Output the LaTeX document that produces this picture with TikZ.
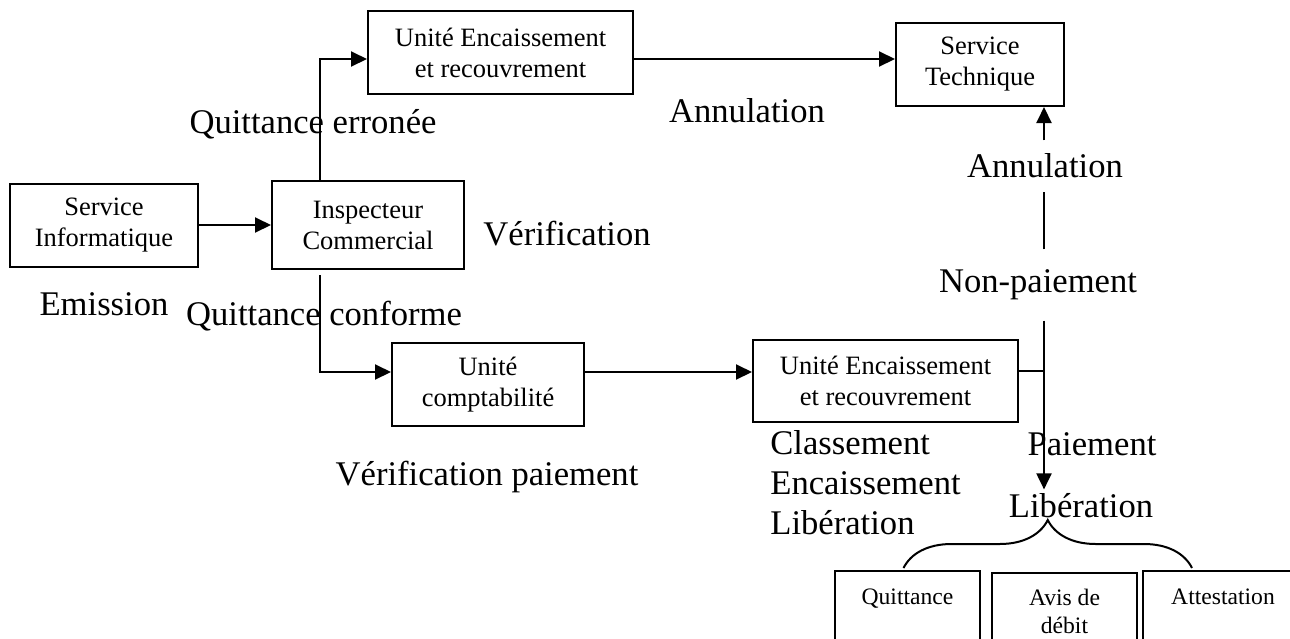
\documentclass[tikz,border=0pt]{standalone}
\usepackage{fontspec}
\setmainfont{Liberation Serif}
\usetikzlibrary{arrows.meta,decorations.pathreplacing}

\newcommand{\unitFont}{\fontsize{13.25}{15.5}\selectfont}
\newcommand{\stepFont}{\fontsize{17.3}{20}\selectfont}
\newcommand{\docFont}{\fontsize{11.8}{14}\selectfont}

\begin{document}
\begin{tikzpicture}[x=0.5pt,y=-0.5pt]
\tikzstyle{unitBox}=[draw,line width=1pt,align=center,inner sep=0pt,font=\unitFont]
\tikzstyle{docBox}=[draw,line width=1pt,anchor=north,align=center,font=\docFont,inner xsep=0pt,inner ysep=8pt,text depth=60pt]
\tikzstyle{stepLabel}=[font=\stepFont,inner sep=2pt]
\tikzstyle{flowEdge}=[line width=1pt,-{Triangle[length=8pt,width=7.5pt]}]
\tikzstyle{plainEdge}=[line width=1pt]
\useasboundingbox (0,0) rectangle (1290,638);
% boxes
\node[unitBox,minimum width=94pt,minimum height=41.5pt] (svc-info) at (104,225) {Service\\Informatique};
\node[unitBox,minimum width=96pt,minimum height=44pt] (inspecteur) at (368,225) {Inspecteur\\Commercial};
\node[unitBox,minimum width=132.5pt,minimum height=41.5pt] (enc-haut) at (500.5,52.5) {Unité Encaissement\\et recouvrement};
\node[unitBox,minimum width=84pt,minimum height=41.5pt] (serv-tech) at (980,64.5) {Service\\Technique};
\node[unitBox,minimum width=96pt,minimum height=41.5pt] (compta) at (488,384.5) {Unité\\comptabilité};
\node[unitBox,minimum width=132.5pt,minimum height=41pt] (enc-bas) at (885.5,380.5) {Unité Encaissement\\et recouvrement};
\node[docBox,minimum width=72.5pt,inner ysep=9pt] (doc-quittance) at (907.5,570) {Quittance};
\node[docBox,minimum width=72.5pt] (doc-avis) at (1064.5,572) {Avis de\\débit};
\node[docBox,minimum width=80pt,inner ysep=9pt] (doc-attest) at (1223,570) {Attestation};
% labels
\node[stepLabel] (lbl-erronee) at (313,124) {Quittance erronée};
\node[stepLabel] (lbl-verif) at (567,234) {Vérification};
\node[stepLabel] (lbl-emission) at (104,304) {Emission};
\node[stepLabel] (lbl-conforme) at (324,316) {Quittance conforme};
\node[stepLabel] (lbl-annul-haut) at (747,111) {Annulation};
\node[stepLabel,inner ysep=6.5pt] (lbl-annul) at (1045,166) {Annulation};
\node[stepLabel,inner ysep=10pt] (lbl-nonpaie) at (1038,285) {Non-paiement};
\node[stepLabel] (lbl-paie) at (1092,444) {Paiement};
\node[stepLabel] (lbl-liberation) at (1081,506) {Libération};
\node[stepLabel] (lbl-verif-paie) at (487,477) {Vérification paiement};
\node[stepLabel,align=left,anchor=west] (lbl-classement) at (766,483) {Classement\\Encaissement\\Libération};
\coordinate (jonction) at (1044,371);
% connectors
\draw[flowEdge] (svc-info) -- (inspecteur);
\draw[flowEdge] ([xshift=-24pt]inspecteur.north) |- ([yshift=-3.25pt]enc-haut.west);
\draw[flowEdge] ([xshift=-24pt,yshift=-2.5pt]inspecteur.south) |- ([yshift=6.25pt]compta.west);
\draw[flowEdge] ([yshift=-3.25pt]enc-haut.east) -- ([yshift=-3.25pt]enc-haut.east -| serv-tech.west);
\draw[flowEdge] ([yshift=6.25pt]compta.east) -- ([yshift=6.25pt]compta.east -| enc-bas.west);
\draw[plainEdge] (enc-bas.east |- jonction) -- (jonction);
\draw[flowEdge] (lbl-nonpaie.south -| jonction) -- (jonction |- lbl-liberation.north);
\draw[plainEdge] (lbl-nonpaie.north -| jonction) -- (lbl-annul.south -| jonction);
\draw[flowEdge] (lbl-annul.north -| jonction) -- (serv-tech.south -| jonction);
\draw[plainEdge,decorate,decoration={brace,amplitude=24pt}] ([xshift=-2pt,yshift=1pt]doc-quittance.north) -- ([xshift=-15.5pt,yshift=1pt]doc-attest.north);
\end{tikzpicture}
\end{document}
